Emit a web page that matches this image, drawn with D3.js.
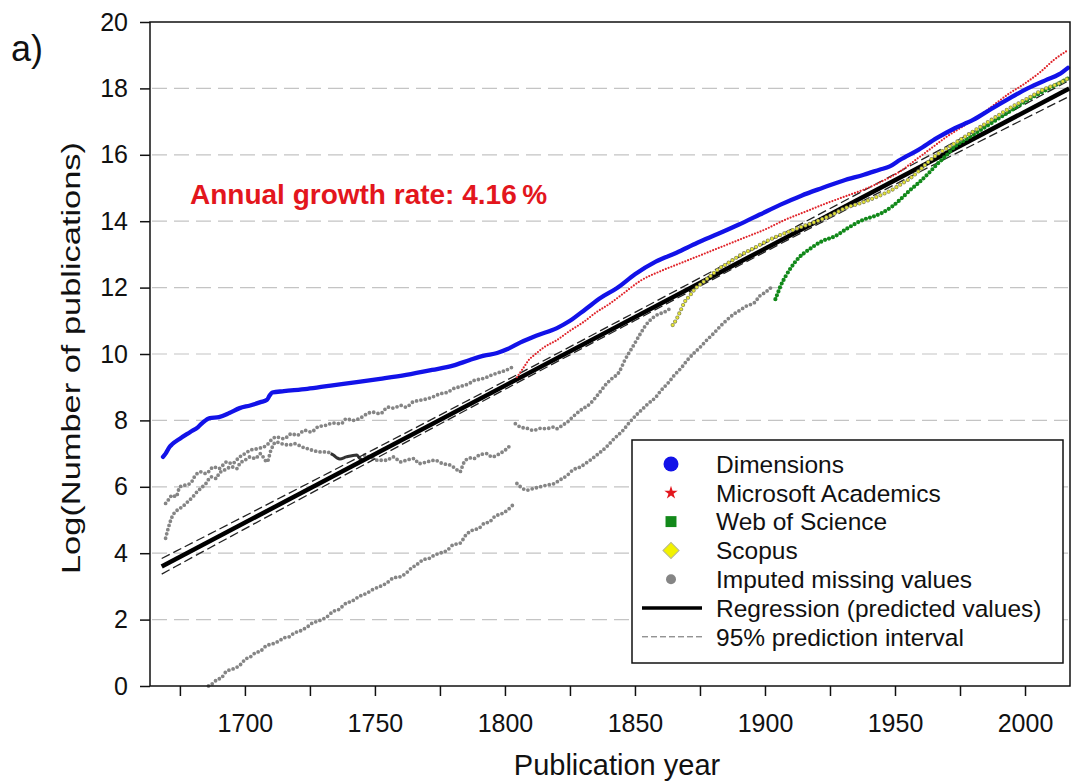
<!DOCTYPE html>
<html>
<head>
<meta charset="utf-8">
<script src="https://cdn.jsdelivr.net/npm/d3@7"></script>
<style>
  body { margin: 0; background: #fff; }
  svg { display: block; font-family: "Liberation Sans", Arial, sans-serif; }
</style>
</head>
<body>
<svg id="chart" width="1072" height="783"></svg>
<script>
// values: [year, log(number of publications)]
var dimensions = [[1668.5,6.9],[1669.5,7.0],[1671,7.2],[1672,7.28],[1675,7.45],[1679,7.65],[1682,7.8],[1684,7.95],
  [1686.5,8.07],[1690,8.1],[1694,8.22],[1698,8.37],[1702,8.45],[1706,8.55],[1708.5,8.62],[1709.5,8.75],[1710.5,8.84],
  [1715,8.88],[1724,8.95],[1733,9.05],[1743,9.15],[1752,9.25],[1762,9.37],[1772,9.52],[1780,9.65],[1786.5,9.82],
  [1792,9.95],[1797,10.03],[1801,10.15],[1806,10.35],[1812,10.55],[1820,10.78],[1825,11.0],[1831,11.35],[1837,11.7],
  [1843,11.98],[1850,12.4],[1858,12.78],[1866,13.05],[1874,13.35],[1882,13.62],[1890,13.9],[1898,14.2],[1906,14.5],
  [1914,14.77],[1922,15.0],[1930,15.22],[1938,15.4],[1944,15.55],[1948,15.65],[1952,15.85],[1959,16.15],[1966,16.5],
  [1973,16.8],[1980,17.05],[1987,17.38],[1994,17.7],[2001,18.0],[2008,18.25],[2013,18.42],[2016.5,18.62]];

var microsoft = [[1804.6,9.3],[1807,9.57],[1809.5,9.85],[1811,9.95],[1815,10.2],[1820,10.42],[1825,10.7],[1830,10.95],
  [1835,11.25],[1840,11.5],[1846,11.85],[1852,12.2],[1860,12.5],[1868,12.75],[1876,13.0],[1884,13.25],[1892,13.5],
  [1900,13.75],[1908,14.05],[1916,14.3],[1924,14.55],[1932,14.78],[1938,14.95],[1945,15.2],[1952,15.5],[1958,15.85],
  [1964,16.2],[1970,16.55],[1976,16.85],[1982,17.15],[1988,17.5],[1994,17.85],[2000,18.15],[2006,18.5],[2011,18.85],
  [2016.5,19.15]];

var webOfScience = [[1904,11.65],[1905,11.85],[1906,12.05],[1908,12.35],[1910,12.6],[1913,12.9],[1917,13.15],[1922,13.4],
  [1927,13.55],[1932,13.8],[1938,14.05],[1942,14.15],[1945,14.25],[1949,14.45],[1952,14.65],[1956,14.95],[1959,15.15],
  [1963,15.45],[1966,15.7],[1970,16.0],[1973,16.25],[1977,16.45],[1980,16.6],[1987,16.95],[1994,17.3],[2001,17.65],
  [2008,17.95],[2013,18.15],[2016.5,18.3]];

var scopus = [[1864.5,10.87],[1866,11.05],[1867.5,11.3],[1869,11.55],[1871,11.75],[1873,11.95],[1876,12.15],[1879,12.35],
  [1882,12.55],[1886,12.75],[1890,12.95],[1896,13.2],[1902,13.45],[1908,13.65],[1913,13.8],[1920,14.0],[1926,14.2],
  [1931,14.4],[1937,14.55],[1942,14.7],[1945,14.8],[1949,14.95],[1952,15.1],[1956,15.3],[1959,15.5],[1963,15.8],
  [1966,16.0],[1970,16.2],[1973,16.35],[1977,16.55],[1980,16.7],[1987,17.05],[1994,17.4],[2001,17.7],[2008,18.0],
  [2013,18.15],[2016.5,18.3]];

// imputed missing values, separate runs
var imputedA = [[1669.5,5.5],[1671,5.65],[1672,5.75],[1673.5,5.7],[1675,6.0],[1677,6.05],[1679,6.1],[1681,6.35],
  [1683,6.45],[1685,6.4],[1688,6.6],[1690,6.55],[1693,6.75],[1695,6.7],[1698,6.9],[1700,7.0],[1702,7.1],[1705,7.15],
  [1708.5,7.26],[1710,7.4],[1712,7.5],[1715,7.45],[1718,7.6],[1720,7.55],[1723,7.7],[1725.5,7.65],[1728,7.8],[1731,7.85],
  [1734,7.92],[1737,7.9],[1739,8.05],[1741.5,8.0],[1745,8.1],[1747,8.2],[1749,8.25],[1752,8.2],[1755,8.4],[1757,8.37],
  [1760,8.45],[1762,8.4],[1764.5,8.55],[1767,8.6],[1770,8.65],[1772,8.7],[1775,8.8],[1778,8.85],[1780,8.95],[1782,9.0],
  [1784,9.05],[1786,9.1],[1788,9.2],[1791,9.25],[1793,9.3],[1795,9.37],[1798,9.45],[1800,9.5],[1802.7,9.6]];

var imputedB = [[1669.5,4.45],[1670.5,4.75],[1672,5.1],[1674,5.3],[1676,5.4],[1678,5.55],[1680,5.7],[1681,5.8],
  [1683,5.95],[1685,6.1],[1687,6.3],[1689,6.25],[1690,6.4],[1692,6.5],[1695,6.6],[1697,6.55],[1698,6.7],[1700,6.8],
  [1702,6.9],[1704,6.85],[1706,7.0],[1707,6.9],[1708.5,6.75],[1710,7.1],[1712,7.35],[1714,7.3],[1717,7.26],[1719,7.3],
  [1722,7.2],[1724,7.15],[1726,7.1],[1729,7.05],[1731.5,7.05],[1733,7.0]];
var imputedBdark = [[1733,7.0],[1734,6.96],[1735.4,6.87],[1736.5,6.84],[1739,6.9],[1743,6.96],[1744,6.87],[1745,6.8]];
var imputedB2 = [[1746,6.95],[1749,6.87],[1751,6.8],[1754.5,6.8],[1757,6.9],[1760,6.75],[1762,6.8],[1765,6.85],
  [1767,6.7],[1770,6.75],[1773,6.8],[1776,6.7],[1779,6.65],[1781,6.55],[1782.7,6.45],[1784,6.7],[1786.5,6.87],
  [1788,6.85],[1790,6.95],[1793,7.0],[1795,6.9],[1798,7.0],[1800,7.1],[1802.7,7.3]];

var imputedC = [[1804,7.9],[1806,7.8],[1808.5,7.76],[1811,7.7],[1813.5,7.76],[1816,7.75],[1818.5,7.8],[1820,7.75],
  [1822,7.85],[1824,7.95],[1826,8.1],[1829,8.3],[1832.7,8.5],[1836,8.8],[1839,9.1],[1841,9.25],[1844,9.47],[1846,9.8],
  [1849,10.2],[1852,10.6],[1854,10.85],[1857,11.1],[1859,11.2],[1861,11.25],[1864,11.4]];

var imputedD = [[1686,0.0],[1688,0.1],[1689,0.18],[1691,0.25],[1693,0.45],[1695,0.5],[1697,0.57],[1699,0.7],[1700,0.8],
  [1702,0.87],[1704,1.0],[1706,1.05],[1708,1.2],[1711,1.28],[1713,1.35],[1715,1.45],[1717,1.48],[1719,1.6],[1721,1.65],
  [1724,1.78],[1726,1.9],[1728,1.95],[1731.5,2.08],[1734,2.25],[1736,2.3],[1739,2.5],[1741,2.55],[1744,2.7],[1747,2.8],
  [1749,2.9],[1752,3.0],[1754.5,3.1],[1757,3.25],[1760,3.3],[1762,3.4],[1764,3.55],[1766,3.65],[1768.5,3.8],[1771,3.85],
  [1773,3.95],[1775,4.0],[1778,4.1],[1780,4.25],[1782.7,4.3],[1785,4.55],[1787.7,4.7],[1790,4.75],[1792,4.9],[1794,4.94],
  [1796,5.1],[1799,5.2],[1801,5.3],[1803,5.45]];
var imputedD2 = [[1804.6,6.1],[1806,6.0],[1808.5,5.9],[1811,5.95],[1813.5,6.0],[1816,6.05],[1819,6.1],[1821,6.2],
  [1824,6.35],[1826,6.5],[1829,6.6],[1832.7,6.8],[1836,7.0],[1839,7.2],[1842,7.45],[1845.4,7.7],[1848,7.95],[1851,8.2],
  [1853,8.35],[1855,8.5],[1858,8.7],[1860,8.9],[1863,9.15],[1865,9.35],[1868,9.6],[1870,9.8],[1873,10.05],[1875,10.2],
  [1878,10.45],[1880,10.6],[1883,10.85],[1885,11.0],[1888,11.2],[1890,11.3],[1893,11.45],[1896,11.55],[1898,11.75],
  [1900,11.85],[1903,12.05]];

var regression = [[1668,3.6],[2017,18.0]];
var intervalYears = [1668, 1700, 1750, 1800, 1850, 1900, 1950, 2017];
var intervalLower = [3.37, 4.74, 6.84, 8.94, 11.01, 13.08, 15.12, 17.76];
var intervalUpper = [3.84, 5.12, 7.14, 9.18, 11.25, 13.34, 15.42, 18.24];

var xTicks = d3.range(1675, 2001, 25);
var yTicks = d3.range(0, 21, 2);

var legendItems = ['Dimensions', 'Microsoft Academics', 'Web of Science', 'Scopus',
  'Imputed missing values', 'Regression (predicted values)', '95% prediction interval'];

(function () {
  var svg = d3.select('#chart');
  var plotLeft = 150, plotRight = 1070, plotTop = 22, plotBottom = 686;

  var x = d3.scaleLinear().domain([1663.5, 2017.3]).range([plotLeft, plotRight]);
  var y = d3.scaleLinear().domain([0, 20]).range([plotBottom, plotTop]);

  var line = d3.line()
    .x(function (d) { return x(d[0]); })
    .y(function (d) { return y(d[1]); })
    .curve(d3.curveMonotoneX);

  // grid
  svg.append('g')
    .selectAll('line')
    .data(yTicks.filter(function (d) { return d > 0 && d < 20; }))
    .enter().append('line')
    .attr('x1', plotLeft + 2)
    .attr('x2', plotRight - 2)
    .attr('y1', function (d) { return y(d); })
    .attr('y2', function (d) { return y(d); })
    .attr('stroke', '#c4c4c4')
    .attr('stroke-width', 1.2)
    .attr('stroke-dasharray', '15,7');

  // imputed values
  var grayRuns = [imputedA, imputedB, imputedB2, imputedC, imputedD, imputedD2];
  svg.append('g')
    .selectAll('path')
    .data(grayRuns)
    .enter().append('path')
    .attr('d', line)
    .attr('fill', 'none')
    .attr('stroke', '#858585')
    .attr('stroke-width', 3.8)
    .attr('stroke-linecap', 'round')
    .attr('stroke-dasharray', '0,4.4');

  svg.append('path')
    .datum(imputedBdark)
    .attr('d', line)
    .attr('fill', 'none')
    .attr('stroke', '#333')
    .attr('stroke-width', 3)
    .attr('stroke-linejoin', 'round');

  // prediction interval and regression
  var lower = intervalYears.map(function (yr, i) { return [yr, intervalLower[i]]; });
  var upper = intervalYears.map(function (yr, i) { return [yr, intervalUpper[i]]; });

  var smooth = d3.line()
    .x(function (d) { return x(d[0]); })
    .y(function (d) { return y(d[1]); })
    .curve(d3.curveBasis);

  svg.append('g')
    .selectAll('path')
    .data([lower, upper])
    .enter().append('path')
    .attr('d', smooth)
    .attr('fill', 'none')
    .attr('stroke', '#222')
    .attr('stroke-width', 1.3)
    .attr('stroke-dasharray', '9,4');

  svg.append('path')
    .datum(regression)
    .attr('d', line)
    .attr('fill', 'none')
    .attr('stroke', '#000')
    .attr('stroke-width', 4.5);

  // green: Web of Science
  svg.append('path')
    .datum(webOfScience)
    .attr('d', line)
    .attr('fill', 'none')
    .attr('stroke', '#12891a')
    .attr('stroke-width', 4.2)
    .attr('stroke-linecap', 'round')
    .attr('stroke-dasharray', '0,4.2');

  // yellow: Scopus (outlined dots)
  svg.append('path')
    .datum(scopus)
    .attr('d', line)
    .attr('fill', 'none')
    .attr('stroke', '#8a8a55')
    .attr('stroke-width', 4.2)
    .attr('stroke-linecap', 'round')
    .attr('stroke-dasharray', '0,4.5');
  svg.append('path')
    .datum(scopus)
    .attr('d', line)
    .attr('fill', 'none')
    .attr('stroke', '#e8e830')
    .attr('stroke-width', 2.6)
    .attr('stroke-linecap', 'round')
    .attr('stroke-dasharray', '0,4.5');

  // red: Microsoft Academics
  svg.append('path')
    .datum(microsoft)
    .attr('d', line)
    .attr('fill', 'none')
    .attr('stroke', '#e0242a')
    .attr('stroke-width', 2.2)
    .attr('stroke-linecap', 'round')
    .attr('stroke-dasharray', '0,3');

  // blue: Dimensions
  svg.append('path')
    .datum(dimensions)
    .attr('d', line)
    .attr('fill', 'none')
    .attr('stroke', '#1212e8')
    .attr('stroke-width', 4.3)
    .attr('stroke-linecap', 'round')
    .attr('stroke-linejoin', 'round');

  // axes
  var xAxis = svg.append('g')
    .attr('transform', 'translate(0,' + plotBottom + ')')
    .call(d3.axisBottom(x)
      .tickValues(xTicks)
      .tickSize(10)
      .tickPadding(18)
      .tickFormat(function (d) { return d % 50 === 0 ? d : ''; }));

  var yAxis = svg.append('g')
    .attr('transform', 'translate(' + plotLeft + ',0)')
    .call(d3.axisLeft(y)
      .tickValues(yTicks)
      .tickSize(10)
      .tickPadding(12));

  [xAxis, yAxis].forEach(function (g) {
    g.select('.domain').remove();
    g.selectAll('line').attr('stroke', '#111').attr('stroke-width', 1.5);
    g.selectAll('text')
      .attr('font-family', '"Liberation Sans", Arial, sans-serif')
      .attr('fill', '#111');
  });
  xAxis.selectAll('text').attr('font-size', 25);
  yAxis.selectAll('text').attr('font-size', 25);

  // frame
  svg.append('rect')
    .attr('x', plotLeft)
    .attr('y', plotTop)
    .attr('width', plotRight - plotLeft)
    .attr('height', plotBottom - plotTop)
    .attr('fill', 'none')
    .attr('stroke', '#111')
    .attr('stroke-width', 1.5);

  // titles
  svg.append('text')
    .attr('x', 617)
    .attr('y', 775)
    .attr('text-anchor', 'middle')
    .attr('font-size', 29)
    .attr('fill', '#111')
    .text('Publication year');

  svg.append('text')
    .attr('transform', 'translate(80,358) rotate(-90)')
    .attr('text-anchor', 'middle')
    .attr('font-size', 25)
    .attr('textLength', 432)
    .attr('lengthAdjust', 'spacingAndGlyphs')
    .attr('fill', '#111')
    .text('Log(Number of publications)');

  svg.append('text')
    .attr('x', 11)
    .attr('y', 61)
    .attr('font-size', 36)
    .attr('fill', '#111')
    .text('a)');

  svg.append('text')
    .attr('x', 190)
    .attr('y', 204)
    .attr('font-size', 28)
    .attr('font-weight', 'bold')
    .attr('fill', '#e3161d')
    .text('Annual growth rate: 4.16\u2009%');

  // legend
  var legend = svg.append('g').attr('transform', 'translate(632,440)');
  legend.append('rect')
    .attr('width', 431)
    .attr('height', 223)
    .attr('fill', '#fff')
    .attr('stroke', '#111')
    .attr('stroke-width', 1.5);

  var rowY = function (i) { return 24 + i * 28.8; };

  legend.selectAll('text')
    .data(legendItems)
    .enter().append('text')
    .attr('x', 84)
    .attr('y', function (d, i) { return rowY(i); })
    .attr('dy', '0.36em')
    .attr('font-size', 24.5)
    .attr('fill', '#111')
    .text(function (d) { return d; });

  var mx = 39;
  legend.append('circle').attr('cx', mx).attr('cy', rowY(0)).attr('r', 7.5).attr('fill', '#1212e8');
  legend.append('path')
    .attr('transform', 'translate(' + mx + ',' + rowY(1) + ')')
    .attr('d', d3.symbol().type(d3.symbolStar).size(55)())
    .attr('fill', '#e3161d');
  legend.append('path')
    .attr('transform', 'translate(' + mx + ',' + rowY(2) + ')')
    .attr('d', d3.symbol().type(d3.symbolSquare).size(120)())
    .attr('fill', '#12891a');
  legend.append('path')
    .attr('transform', 'translate(' + mx + ',' + rowY(3) + ') rotate(45)')
    .attr('d', d3.symbol().type(d3.symbolSquare).size(130)())
    .attr('fill', '#f2f200')
    .attr('stroke', '#b8b890')
    .attr('stroke-width', 1);
  legend.append('circle').attr('cx', mx).attr('cy', rowY(4)).attr('r', 5).attr('fill', '#858585');
  legend.append('line')
    .attr('x1', 10).attr('x2', 70)
    .attr('y1', rowY(5)).attr('y2', rowY(5))
    .attr('stroke', '#000').attr('stroke-width', 3.5);
  legend.append('line')
    .attr('x1', 10).attr('x2', 70)
    .attr('y1', rowY(6)).attr('y2', rowY(6))
    .attr('stroke', '#666').attr('stroke-width', 1)
    .attr('stroke-dasharray', '6,3');
})();
</script>
</body>
</html>
